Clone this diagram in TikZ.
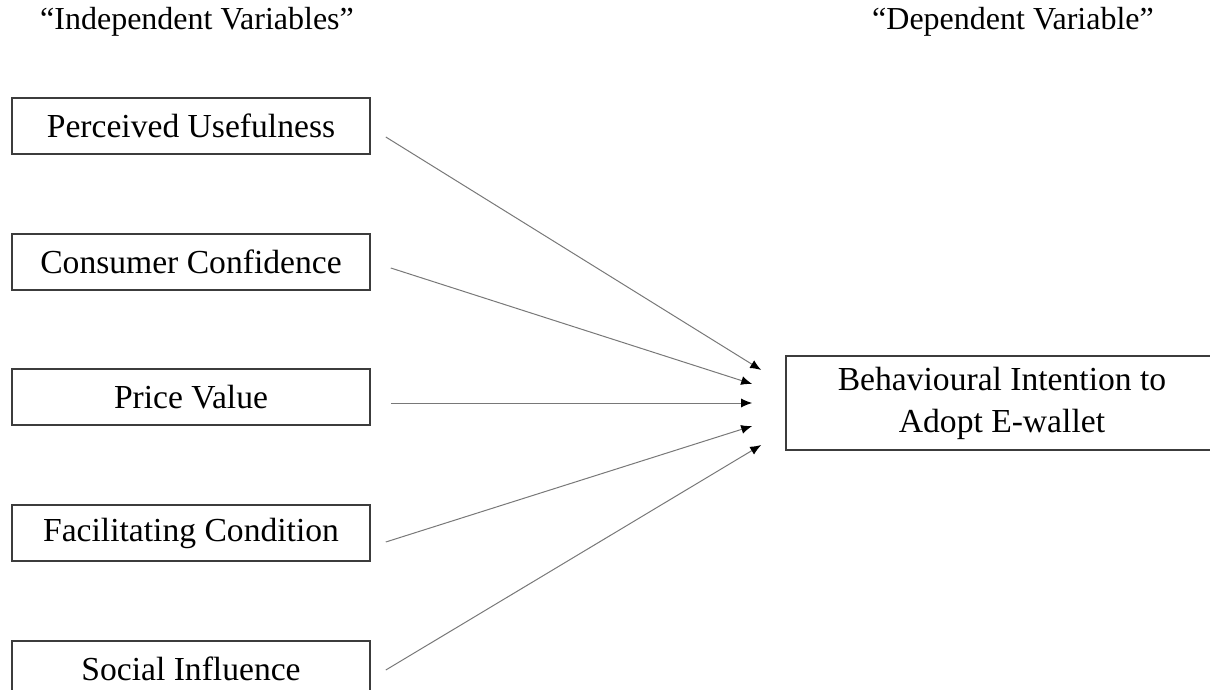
\documentclass[tikz,border=0pt]{standalone}
\usepackage{fontspec}
\setmainfont{Liberation Serif}
\usetikzlibrary{arrows.meta}
\definecolor{Ln}{RGB}{120,120,120}
\definecolor{Bx}{RGB}{60,60,60}
\tikzset{
  varbox/.style={draw=Bx, line width=0.8pt, minimum width=179pt, minimum height=28pt, inner sep=0pt, font=\fontsize{16.8}{21}\selectfont},
  link/.style={draw=Ln, line width=0.5pt, -{Latex[length=5.5pt,width=4.5pt,color=black]}}
}

\begin{document}
\begin{tikzpicture}[x=0.5pt, y=-0.5pt]
  \useasboundingbox (0,0) rectangle (1210,690);
  \node[font=\fontsize{16}{20}\selectfont] (hind) at (197,22) {``Independent Variables''};
  \node[font=\fontsize{16}{20}\selectfont] (hdep) at (1013,22) {``Dependent Variable''};
  \node[varbox] (pu) at (191,126) {Perceived Usefulness};
  \node[varbox] (cc) at (191,262) {Consumer Confidence};
  \node[varbox] (pv) at (191,397) {Price Value};
  \node[varbox] (fc) at (191,533) {Facilitating Condition};
  \node[varbox] (si) at (191,669) {Social Influence};
  \node[varbox, minimum width=216pt, minimum height=47pt, align=center] (bi) at (1002,403) {Behavioural Intention to\\Adopt E-wallet};
  \coordinate (pu-s) at ([shift={(15,11)}]pu.east);
  \coordinate (cc-s) at ([shift={(20,6)}]cc.east);
  \coordinate (pv-s) at ([shift={(20,6)}]pv.east);
  \coordinate (fc-s) at ([shift={(15,9)}]fc.east);
  \coordinate (si-s) at ([shift={(15,1)}]si.east);
  \coordinate (pu-e) at ([shift={(-24,-33)}]bi.west);
  \coordinate (cc-e) at ([shift={(-33,-19)}]bi.west);
  \coordinate (pv-e) at ([shift={(-33,0)}]bi.west);
  \coordinate (fc-e) at ([shift={(-33,23)}]bi.west);
  \coordinate (si-e) at ([shift={(-24,42)}]bi.west);
  \draw[link] (pu-s) -- (pu-e);
  \draw[link] (cc-s) -- (cc-e);
  \draw[link] (pv-s) -- (pv-e);
  \draw[link] (fc-s) -- (fc-e);
  \draw[link] (si-s) -- (si-e);
\end{tikzpicture}
\end{document}
